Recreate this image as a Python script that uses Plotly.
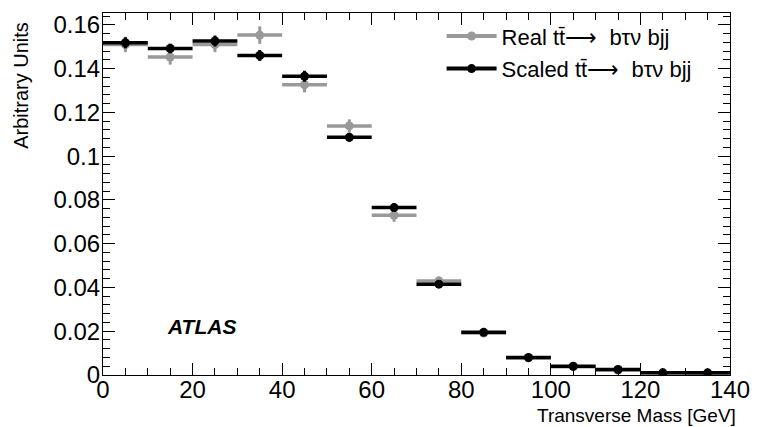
import plotly.graph_objects as go

bin_centers = [5, 15, 25, 35, 45, 55, 65, 75, 85, 95, 105, 115, 125, 135]
bin_half_width = [5] * 14
real_vals = [0.151, 0.1453, 0.151, 0.1553, 0.1326, 0.1138, 0.0730, 0.0430, 0.0192, 0.0078, 0.0038, 0.0023, 0.0010, 0.0008]
real_err = [0.0035, 0.0035, 0.0035, 0.0040, 0.0035, 0.0030, 0.0030, 0.0020, 0.0015, 0.0010, 0.0007, 0.0005, 0.0004, 0.0003]
scaled_vals = [0.1518, 0.1492, 0.1526, 0.1460, 0.1365, 0.1086, 0.0765, 0.0415, 0.0195, 0.0080, 0.0040, 0.0025, 0.0010, 0.0010]
scaled_err = [0.0025, 0.0022, 0.0025, 0.0025, 0.0025, 0.0020, 0.0020, 0.0015, 0.0010, 0.0007, 0.0005, 0.0004, 0.0003, 0.0003]

legend_names = ["Real tt\u0304\u27f6  b\u03c4\u03bd bjj", "Scaled tt\u0304\u27f6  b\u03c4\u03bd bjj"]

FONT = "Liberation Sans, Arial, Helvetica, sans-serif"
GRAY = "#999999"
BLACK = "#000000"

fig = go.Figure()

for vals, errs, col in [(real_vals, real_err, GRAY), (scaled_vals, scaled_err, BLACK)]:
    fig.add_trace(go.Scatter(
        x=bin_centers, y=vals, mode="markers", showlegend=False,
        marker=dict(color=col, size=9),
        error_x=dict(type="data", array=bin_half_width, symmetric=True, color=col, thickness=3.5, width=0),
        error_y=dict(type="data", array=errs, symmetric=True, color=col, thickness=3, width=0),
    ))

# legend entries
for i, (name, col) in enumerate(zip(legend_names, [GRAY, BLACK])):
    fig.add_trace(go.Scatter(
        x=[None], y=[None], mode="lines+markers", name=name, legendgroup=f"g{i}",
        line=dict(color=col, width=4), marker=dict(color=col, size=9),
    ))

fig.add_annotation(x=22, y=0.0223, xref="x", yref="y", text="<b><i>ATLAS</i></b>",
                   showarrow=False, font=dict(family=FONT, size=21, color="black"))

# axis titles (ROOT style: aligned to the end of the axis)
fig.add_annotation(x=1.012, y=-0.112, xref="paper", yref="paper", xanchor="right", yanchor="middle",
                   text="Transverse Mass [GeV]", showarrow=False,
                   font=dict(family=FONT, size=19, color="black"))
fig.add_annotation(x=-0.13, y=0.981, xref="paper", yref="paper", xanchor="center", yanchor="top",
                   text="Arbitrary Units", textangle=-90, showarrow=False,
                   font=dict(family=FONT, size=20, color="black"))

axis_common = dict(
    showgrid=False, zeroline=False, showline=True, linecolor="black", linewidth=1.2,
    mirror="ticks", ticks="inside", ticklen=12, tickcolor="black", tickwidth=1.2,
    tickfont=dict(family=FONT, size=24, color="black"),
)

fig.update_xaxes(range=[0, 140], dtick=20, tick0=0,
                 minor=dict(dtick=5, ticks="inside", ticklen=7, tickcolor="black", tickwidth=1.2),
                 ticklabelstandoff=-7,
                 **axis_common)
fig.update_yaxes(range=[0, 0.1654], dtick=0.02, tick0=0, tickformat="~g",
                 minor=dict(dtick=0.004, ticks="inside", ticklen=7, tickcolor="black", tickwidth=1.2),
                 ticklabelstandoff=-3,
                 **axis_common)

fig.update_layout(
    width=761, height=427,
    margin=dict(l=103, r=23, t=11, b=52),
    paper_bgcolor="white", plot_bgcolor="white",
    legend=dict(x=0.54, y=0.994, xanchor="left", yanchor="top", bgcolor="rgba(0,0,0,0)",
                font=dict(family=FONT, size=22, color="black"), itemwidth=50, tracegroupgap=1),
)

fig.write_html("out.html")
